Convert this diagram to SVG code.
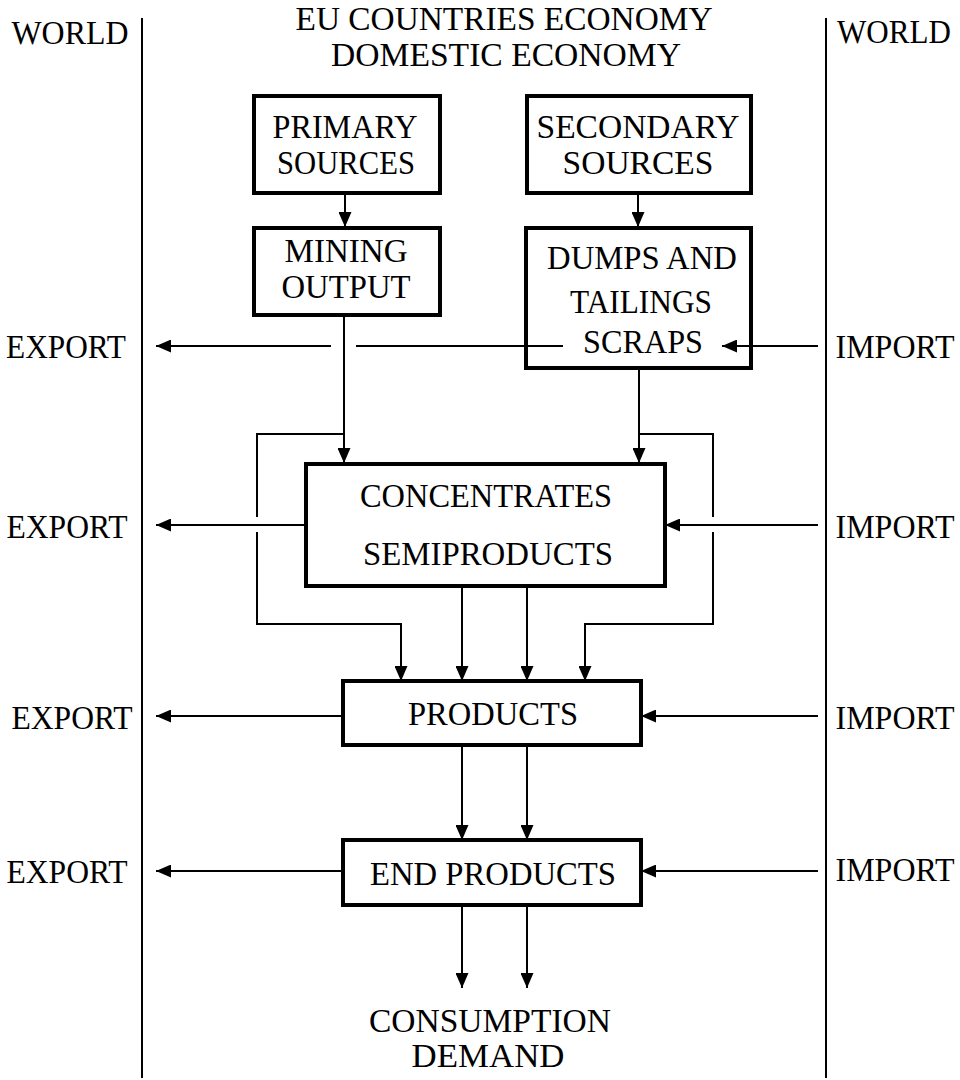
<svg xmlns="http://www.w3.org/2000/svg" width="960" height="1080" viewBox="0 0 960 1080">
<style>
text{font-family:"Liberation Serif","Times New Roman",serif;font-size:34px;fill:#000;text-anchor:middle}
.box{fill:#fff;stroke:#000;stroke-width:4}
.ln{fill:none;stroke:#000;stroke-width:2}
.ar{fill:none;stroke:#000;stroke-width:2;marker-end:url(#ah)}
</style>
<defs>
<marker id="ah" viewBox="0 0 15 13" refX="15" refY="6.5" markerWidth="15" markerHeight="13" markerUnits="userSpaceOnUse" orient="auto">
<path d="M0,0 L15,6.5 L0,13 z" fill="#000"/>
</marker>
</defs>
<rect width="960" height="1080" fill="#fff"/>
<g id="frame">
<line class="ln" x1="142" y1="18" x2="142" y2="1078"/>
<line class="ln" x1="826" y1="18" x2="826" y2="1078"/>
<text x="70" y="44" textLength="117" lengthAdjust="spacingAndGlyphs">WORLD</text>
<text x="894" y="43" textLength="114" lengthAdjust="spacingAndGlyphs">WORLD</text>
<text x="504" y="30" textLength="417" lengthAdjust="spacingAndGlyphs">EU COUNTRIES ECONOMY</text>
<text x="506" y="66" textLength="350" lengthAdjust="spacingAndGlyphs">DOMESTIC ECONOMY</text>
</g>
<g id="connectors">
<line class="ar" x1="345" y1="193" x2="345" y2="227"/>
<line class="ar" x1="638" y1="193" x2="638" y2="227"/>
<line class="ar" x1="344" y1="317" x2="344" y2="463"/>
<line class="ar" x1="639" y1="370" x2="639" y2="463"/>
<polyline class="ln" points="344,434 257,434 257,517"/>
<polyline class="ar" points="257,532 257,624 401,624 401,681"/>
<polyline class="ln" points="639,434 713,434 713,517"/>
<polyline class="ar" points="713,532 713,624 585,624 585,681"/>
<line class="ar" x1="462" y1="588" x2="462" y2="681"/>
<line class="ar" x1="527" y1="588" x2="527" y2="681"/>
<line class="ar" x1="462" y1="747" x2="462" y2="840"/>
<line class="ar" x1="527" y1="747" x2="527" y2="840"/>
<line class="ar" x1="462" y1="907" x2="462" y2="988"/>
<line class="ar" x1="527" y1="907" x2="527" y2="988"/>
<line class="ar" x1="331" y1="346" x2="156" y2="346"/>
<line class="ln" x1="356" y1="346" x2="563" y2="346"/>
<line class="ar" x1="818" y1="346" x2="722" y2="346"/>
<line class="ar" x1="305" y1="525" x2="156" y2="525"/>
<line class="ar" x1="818" y1="525" x2="665" y2="525"/>
<line class="ar" x1="343" y1="716" x2="156" y2="716"/>
<line class="ar" x1="818" y1="716" x2="641" y2="716"/>
<line class="ar" x1="343" y1="871" x2="156" y2="871"/>
<line class="ar" x1="818" y1="871" x2="641" y2="871"/>
</g>
<g id="primary">
<rect class="box" x="254" y="96" width="186" height="97"/>
<text x="345" y="138" textLength="145" lengthAdjust="spacingAndGlyphs">PRIMARY</text>
<text x="346" y="174" textLength="138" lengthAdjust="spacingAndGlyphs">SOURCES</text>
</g>
<g id="secondary">
<rect class="box" x="527" y="96" width="224" height="97"/>
<text x="638" y="138" textLength="203" lengthAdjust="spacingAndGlyphs">SECONDARY</text>
<text x="638" y="174" textLength="151" lengthAdjust="spacingAndGlyphs">SOURCES</text>
</g>
<g id="mining">
<rect class="box" x="254" y="228" width="186" height="87"/>
<text x="346" y="262" textLength="123" lengthAdjust="spacingAndGlyphs">MINING</text>
<text x="346" y="298" textLength="129" lengthAdjust="spacingAndGlyphs">OUTPUT</text>
</g>
<g id="dumps">
<rect x="526" y="228" width="225" height="140" style="fill:none;stroke:#000;stroke-width:4"/>
<text x="642" y="269" textLength="190" lengthAdjust="spacingAndGlyphs">DUMPS AND</text>
<text x="641" y="313" textLength="142" lengthAdjust="spacingAndGlyphs">TAILINGS</text>
<text x="643" y="353" textLength="120" lengthAdjust="spacingAndGlyphs">SCRAPS</text>
</g>
<g id="concentrates">
<rect class="box" x="306" y="464" width="359" height="122"/>
<text x="486" y="507" textLength="252" lengthAdjust="spacingAndGlyphs">CONCENTRATES</text>
<text x="488" y="565" textLength="250" lengthAdjust="spacingAndGlyphs">SEMIPRODUCTS</text>
</g>
<g id="products">
<rect class="box" x="343" y="681" width="298" height="64"/>
<text x="493" y="725" textLength="170" lengthAdjust="spacingAndGlyphs">PRODUCTS</text>
</g>
<g id="endproducts">
<rect class="box" x="343" y="840" width="298" height="65"/>
<text x="493" y="885" textLength="246" lengthAdjust="spacingAndGlyphs">END PRODUCTS</text>
</g>
<g id="consumption">
<text x="490" y="1032" textLength="242" lengthAdjust="spacingAndGlyphs">CONSUMPTION</text>
<text x="488" y="1067" textLength="153" lengthAdjust="spacingAndGlyphs">DEMAND</text>
</g>
<g id="world-labels">
<text x="66" y="358" textLength="120" lengthAdjust="spacingAndGlyphs">EXPORT</text>
<text x="67" y="538" textLength="121" lengthAdjust="spacingAndGlyphs">EXPORT</text>
<text x="72" y="729" textLength="121" lengthAdjust="spacingAndGlyphs">EXPORT</text>
<text x="67" y="883" textLength="121" lengthAdjust="spacingAndGlyphs">EXPORT</text>
<text x="895" y="358" textLength="119" lengthAdjust="spacingAndGlyphs">IMPORT</text>
<text x="895" y="538" textLength="119" lengthAdjust="spacingAndGlyphs">IMPORT</text>
<text x="895" y="729" textLength="119" lengthAdjust="spacingAndGlyphs">IMPORT</text>
<text x="895" y="881" textLength="119" lengthAdjust="spacingAndGlyphs">IMPORT</text>
</g>
</svg>
